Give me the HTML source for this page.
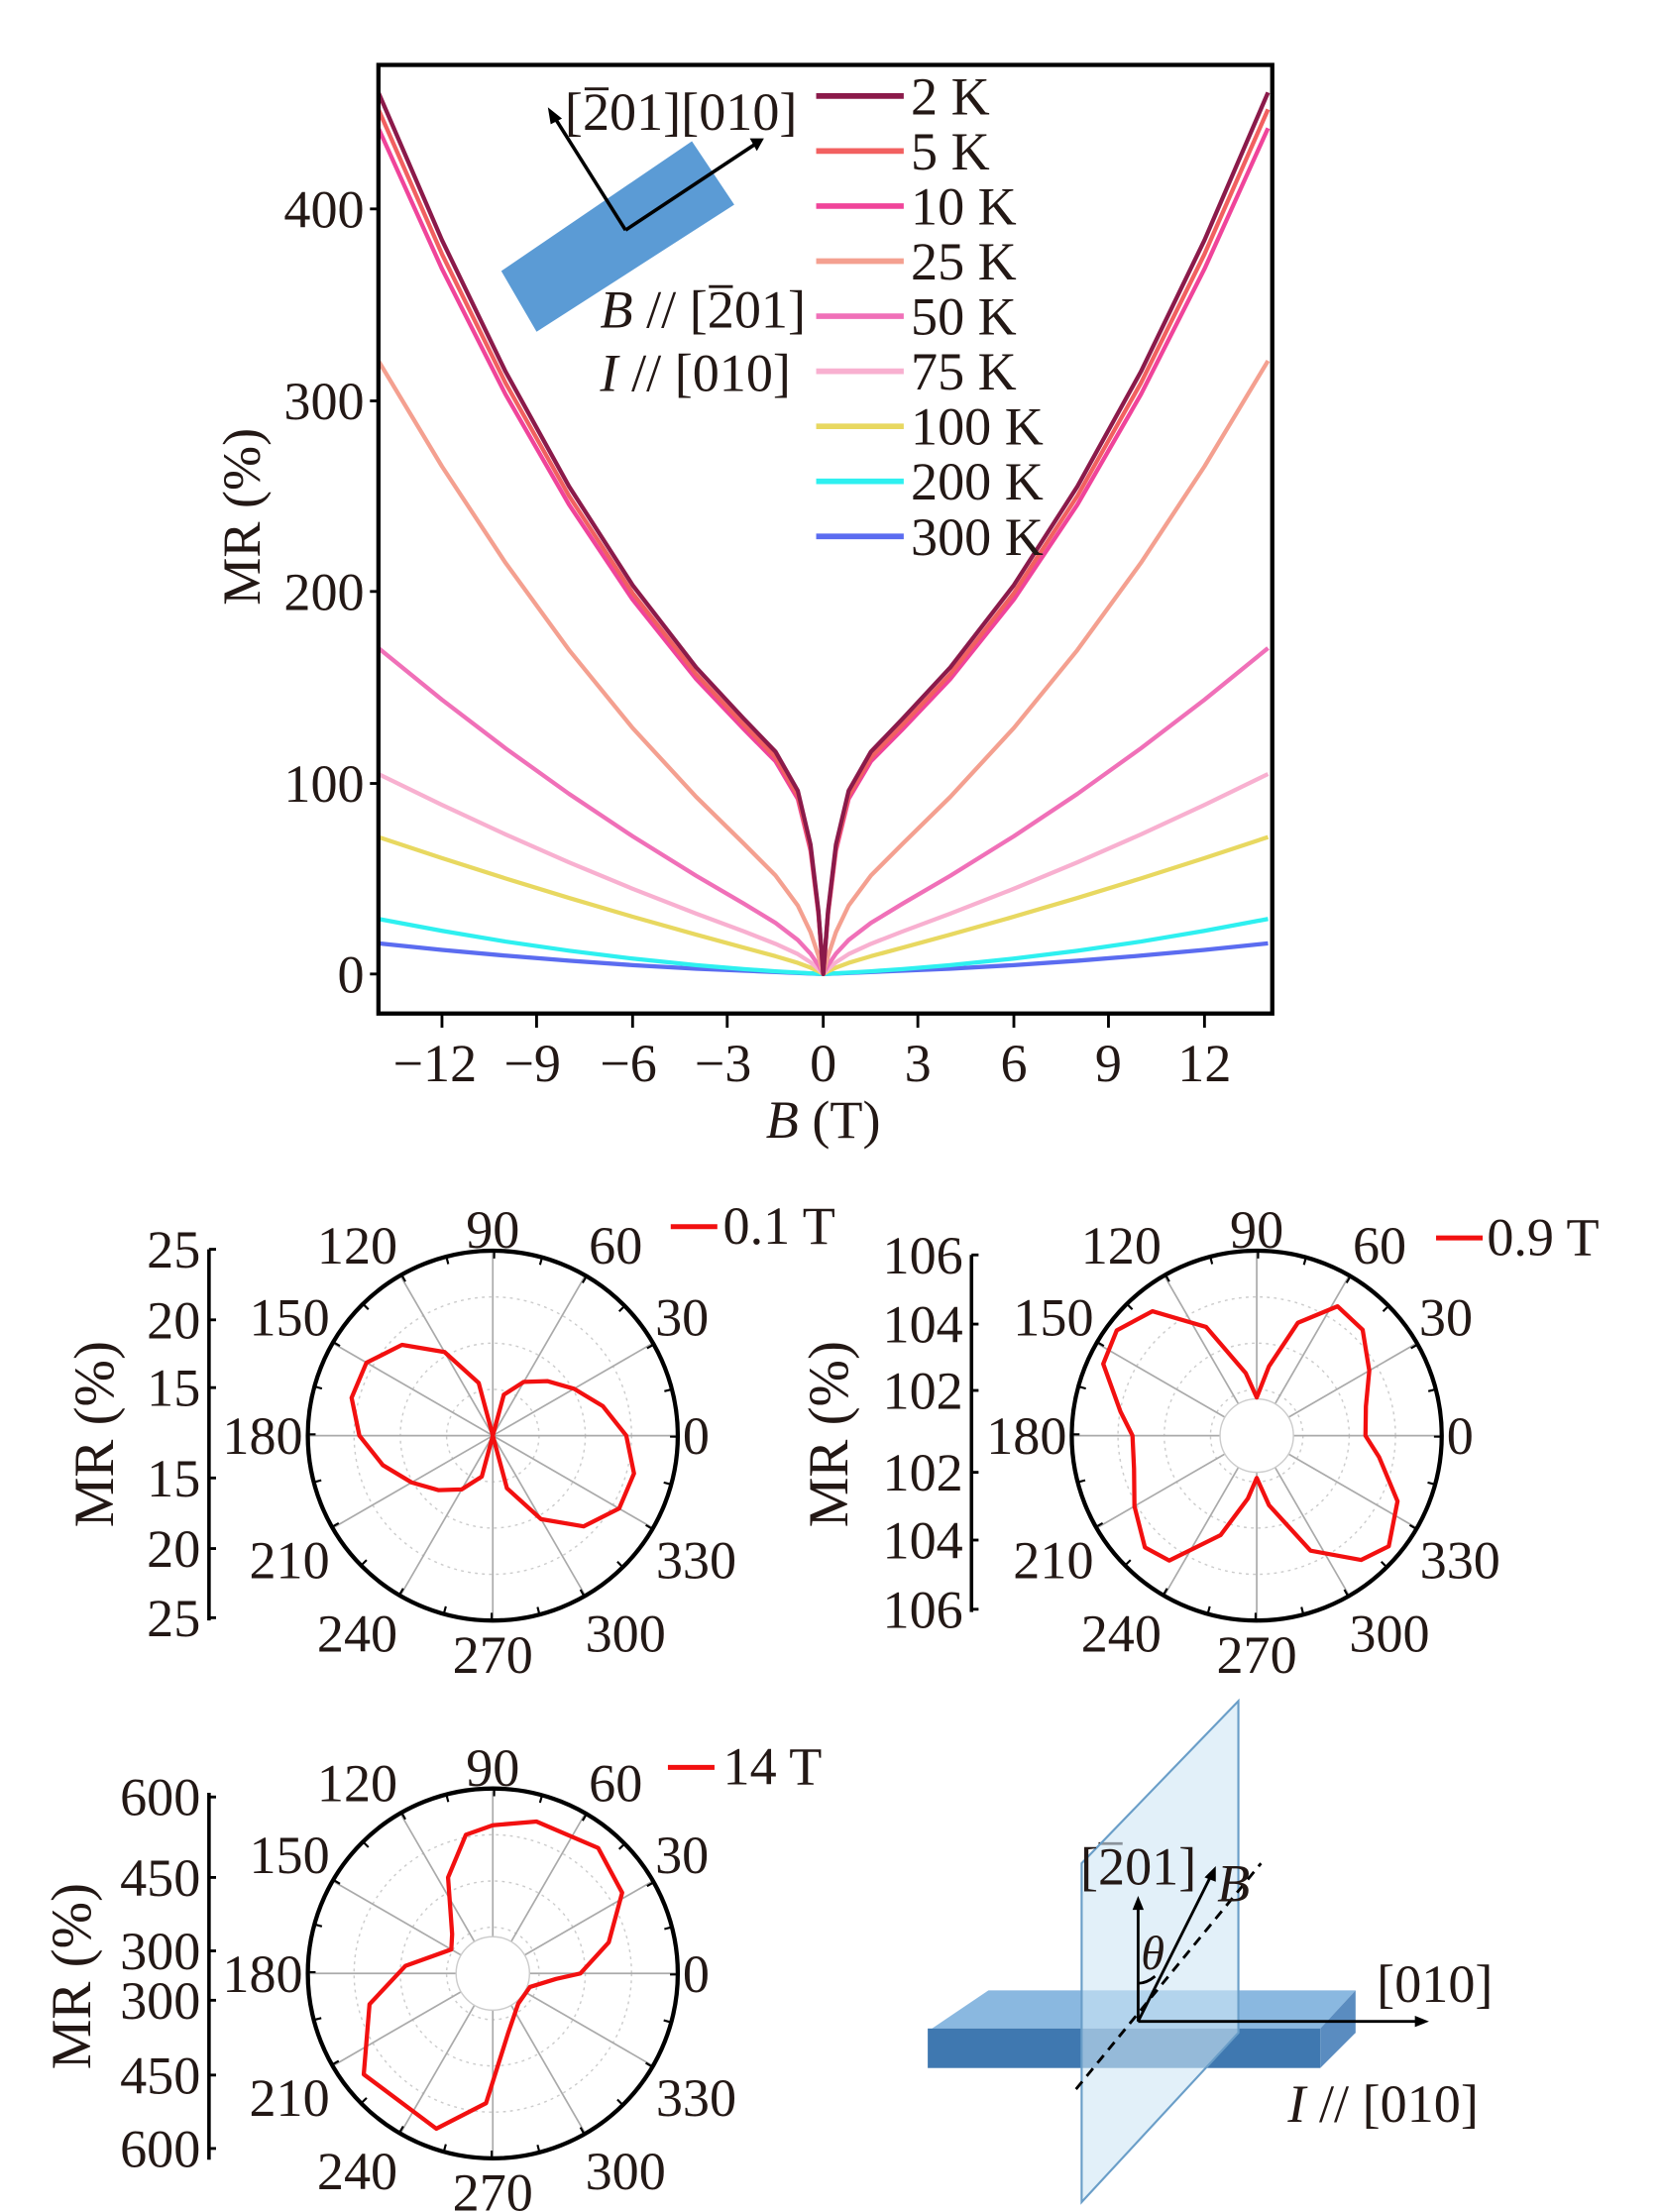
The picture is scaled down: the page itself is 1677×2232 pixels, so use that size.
<!DOCTYPE html>
<html><head><meta charset="utf-8"><style>
html,body{margin:0;padding:0;background:#fff}
svg{display:block}
text{font-family:"Liberation Serif",serif;fill:#231815}
</style></head><body>
<svg width="1677" height="2232" viewBox="0 0 1177 1567" preserveAspectRatio="none" xmlns="http://www.w3.org/2000/svg">
<rect width="1177" height="1567" fill="#fff"/>
<g fill="none" stroke-width="3" stroke-linejoin="round">
<path stroke="#5b6cf0" d="M268 668.3L313 672.9L358 677L403 680.6L448 683.7L493 686.3L583 690L673 686.3L718 683.7L763 680.6L808 677L853 672.9L898 668.3"/>
<path stroke="#2ef0f0" d="M268 651L313 659.4L358 667L403 673.5L448 679.1L493 683.7L526.7 686.5L549.2 688.1L583 690L616.8 688.1L639.3 686.5L673 683.7L718 679.1L763 673.5L808 667L853 659.4L898 651"/>
<path stroke="#e8d860" d="M268 593L313 607.9L358 622.3L403 636.1L448 649.4L493 662.1L526.7 671.3L549.2 677.4L565 682.1L574 685.5L579.6 688.1L583 690L586.4 688.1L592 685.5L601 682.1L616.8 677.4L639.3 671.3L673 662.1L718 649.4L763 636.1L808 622.3L853 607.9L898 593"/>
<path stroke="#f8b0d0" d="M268 548.3L313 570.2L358 591.1L403 610.9L448 629.6L493 647.2L526.7 659.8L549.2 668.6L565 675.9L574 681.7L579.6 686.5L583 690L586.4 686.5L592 681.7L601 675.9L616.8 668.6L639.3 659.8L673 647.2L718 629.6L763 610.9L808 591.1L853 570.2L898 548.3"/>
<path stroke="#f070b8" d="M268 459.1L313 495.7L358 530.1L403 562.4L448 592.4L493 620.4L526.7 640.1L549.2 653.8L565 665.9L574 675.6L579.6 683.8L583 690L586.4 683.8L592 675.6L601 665.9L616.8 653.8L639.3 640.1L673 620.4L718 592.4L763 562.4L808 530.1L853 495.7L898 459.1"/>
<path stroke="#f4a090" d="M268 255.6L313 330.4L358 398.7L403 460.5L448 515.7L493 564.5L526.7 597.6L549.2 620.2L565 641.5L574 660.3L579.6 677.1L583 690L586.4 677.1L592 660.3L601 641.5L616.8 620.2L639.3 597.6L673 564.5L718 515.7L763 460.5L808 398.7L853 330.4L898 255.6"/>
<path stroke="#f0449a" d="M268 90.8L313 190.5L358 279.4L403 357.5L448 424.7L493 481L526.7 516.5L549.2 539.3L565 566L574 602.6L579.6 647.6L583 690L586.4 647.6L592 602.6L601 566L616.8 539.3L639.3 516.5L673 481L718 424.7L763 357.5L808 279.4L853 190.5L898 90.8"/>
<path stroke="#f26060" d="M268 77.5L313 180L358 271.3L403 351.3L448 420.1L493 477.5L526.7 513.4L549.2 536.6L565 563.7L574 600.8L579.6 646.6L583 690L586.4 646.6L592 600.8L601 563.7L616.8 536.6L639.3 513.4L673 477.5L718 420.1L763 351.3L808 271.3L853 180L898 77.5"/>
<path stroke="#8b1a4a" d="M268 65.5L313 170.1L358 263.2L403 344.6L448 414.5L493 472.8L526.7 509.1L549.2 532.5L565 560.2L574 598.3L579.6 645.4L583 690L586.4 645.4L592 598.3L601 560.2L616.8 532.5L639.3 509.1L673 472.8L718 414.5L763 344.6L808 263.2L853 170.1L898 65.5"/>
</g>
<rect x="268" y="46" width="633" height="672" fill="none" stroke="#000" stroke-width="3"/>
<g font-size="38" text-anchor="end">
<text x="258" y="703">0</text><text x="258" y="568">100</text><text x="258" y="432">200</text><text x="258" y="297">300</text><text x="258" y="161">400</text>
</g>
<g stroke="#000" stroke-width="2">
<line x1="262" y1="690" x2="268" y2="690"/><line x1="262" y1="555" x2="268" y2="555"/><line x1="262" y1="419" x2="268" y2="419"/><line x1="262" y1="284" x2="268" y2="284"/><line x1="262" y1="148" x2="268" y2="148"/>
<line x1="313" y1="718" x2="313" y2="728"/><line x1="380" y1="718" x2="380" y2="728"/><line x1="448" y1="718" x2="448" y2="728"/><line x1="515" y1="718" x2="515" y2="728"/><line x1="583" y1="718" x2="583" y2="728"/><line x1="650" y1="718" x2="650" y2="728"/><line x1="718" y1="718" x2="718" y2="728"/><line x1="785" y1="718" x2="785" y2="728"/><line x1="853" y1="718" x2="853" y2="728"/>
</g>
<g font-size="38" text-anchor="middle">
<text x="308" y="766">−12</text><text x="377" y="766">−9</text><text x="445" y="766">−6</text><text x="512" y="766">−3</text><text x="583" y="766">0</text><text x="650" y="766">3</text><text x="718" y="766">6</text><text x="785" y="766">9</text><text x="853" y="766">12</text>
<text x="583" y="806"><tspan font-style="italic">B</tspan> (T)</text>
<text transform="translate(184,366) rotate(-90)">MR (%)</text>
</g>
<polygon points="355,192 490,100 520,145 380,235" fill="#5b9bd5"/>
<g stroke="#000" stroke-width="2.5" fill="none">
<line x1="443" y1="163" x2="392" y2="82"/><line x1="443" y1="163" x2="535" y2="102"/>
</g>
<polygon points="388,76 398,84 390,88" fill="#000"/>
<polygon points="541,98 531,98 536,107" fill="#000"/>
<g font-size="38">
<text x="400" y="92">[201][010]</text>
<text x="425" y="232"><tspan font-style="italic">B</tspan> // [201]</text>
<text x="425" y="277"><tspan font-style="italic">I</tspan> // [010]</text>
</g>
<g stroke="#231815" stroke-width="2">
<line x1="414" y1="63" x2="431" y2="63"/>
<line x1="502" y1="203" x2="519" y2="203"/>
<line x1="778" y1="1306" x2="795" y2="1306"/>
</g>
<g stroke-width="4">
<line x1="578" y1="68" x2="640" y2="68" stroke="#8b1a4a"/>
<line x1="578" y1="107" x2="640" y2="107" stroke="#f26060"/>
<line x1="578" y1="146" x2="640" y2="146" stroke="#f0449a"/>
<line x1="578" y1="185" x2="640" y2="185" stroke="#f4a090"/>
<line x1="578" y1="224" x2="640" y2="224" stroke="#f070b8"/>
<line x1="578" y1="263" x2="640" y2="263" stroke="#f8b0d0"/>
<line x1="578" y1="302" x2="640" y2="302" stroke="#e8d860"/>
<line x1="578" y1="341" x2="640" y2="341" stroke="#2ef0f0"/>
<line x1="578" y1="380" x2="640" y2="380" stroke="#5b6cf0"/>
</g>
<g font-size="38">
<text x="645" y="81">2 K</text><text x="645" y="120">5 K</text><text x="645" y="159">10 K</text><text x="645" y="198">25 K</text><text x="645" y="237">50 K</text><text x="645" y="276">75 K</text><text x="645" y="315">100 K</text><text x="645" y="354">200 K</text><text x="645" y="393">300 K</text>
</g>

<defs>
<g id="grid">
<circle r="32.75" fill="none" stroke="#ccc" stroke-dasharray="2,3"/>
<circle r="65.5" fill="none" stroke="#ccc" stroke-dasharray="2,3"/>
<circle r="98.25" fill="none" stroke="#ccc" stroke-dasharray="2,3"/>
<g stroke="#aaa" stroke-width="1.2">
<line x1="-131" y1="0" x2="131" y2="0"/><line x1="0" y1="-131" x2="0" y2="131"/>
<line x1="-113.4" y1="65.5" x2="113.4" y2="-65.5"/><line x1="-113.4" y1="-65.5" x2="113.4" y2="65.5"/>
<line x1="-65.5" y1="113.4" x2="65.5" y2="-113.4"/><line x1="-65.5" y1="-113.4" x2="65.5" y2="113.4"/>
</g>
</g>
<g id="frame">
<circle r="131" fill="none" stroke="#000" stroke-width="3"/>
<circle r="128" fill="none" stroke="#000" stroke-width="5" stroke-dasharray="1.5,32.01"/>
</g>
<g id="labs" font-size="38" text-anchor="middle">
<text x="144" y="13">0</text><text x="134" y="-71">30</text><text x="87" y="-122">60</text><text x="0" y="-133">90</text><text x="-96" y="-122">120</text><text x="-144" y="-71">150</text><text x="-163" y="13">180</text><text x="-144" y="101">210</text><text x="-96" y="153">240</text><text x="0" y="168">270</text><text x="94" y="153">300</text><text x="144" y="101">330</text>
</g>
</defs>

<g transform="translate(349,1017)"><use href="#grid"/><use href="#frame"/><use href="#labs"/></g>
<polygon fill="none" stroke="#f21010" stroke-width="3" stroke-linejoin="round" points="443.5,1017 426.9,996.1 406.5,983.8 387.6,978.4 371,978.9 356.8,988 349,1017 339,979.7 314.8,957.8 284.7,952.7 259.5,965.4 249,990.2 254.5,1017 271.1,1037.9 291.5,1050.2 310.4,1055.6 327,1055.1 341.2,1046 349,1017 359,1054.3 383.2,1076.2 413.3,1081.3 438.5,1068.6 449,1043.8"/>
<g transform="translate(890,1017)"><use href="#grid"/><circle r="26" fill="#fff" stroke="#ccc"/><use href="#frame"/><use href="#labs"/></g>
<polygon fill="none" stroke="#f21010" stroke-width="3" stroke-linejoin="round" points="967,1017 967.3,996.3 969.7,971 965,942 947.2,925.4 919.1,937.1 898.7,967.8 890,990 882.2,972.7 854.1,940 816.1,928.9 790.9,942.4 781.3,966.2 793.5,1000 802,1017 803.1,1040.3 803.4,1067 810.8,1096.2 828,1105.5 864.4,1087.5 883.7,1061.6 890,1047 898.7,1066.3 928.1,1098.5 963.9,1105.1 983.5,1095.4 989.7,1063.5 976.7,1032.3"/>
<g transform="translate(349,1398)"><use href="#grid"/><circle r="26" fill="#fff" stroke="#ccc"/><use href="#frame"/><use href="#labs"/></g>
<polygon fill="none" stroke="#f21010" stroke-width="3" stroke-linejoin="round" points="411,1398 431.1,1376 440.6,1340.8 423.6,1309.1 379.9,1290.4 349,1293 329.9,1299.8 317.3,1330 320.2,1370.2 319.6,1381 287.2,1392.6 261.7,1419.8 257.6,1469.5 309,1508 344.2,1489.9 360.1,1439.5 367,1419.4 375.3,1407.6 393.8,1401.9"/>

<g stroke="#000" stroke-width="2.5">
<line x1="148" y1="885" x2="148" y2="1148"/><line x1="688" y1="889" x2="688" y2="1142"/><line x1="148" y1="1270" x2="148" y2="1530"/>
</g>
<g stroke="#000" stroke-width="2">
<line x1="148" y1="885" x2="153" y2="885"/><line x1="148" y1="935" x2="153" y2="935"/><line x1="148" y1="983" x2="153" y2="983"/><line x1="148" y1="1047" x2="153" y2="1047"/><line x1="148" y1="1097" x2="153" y2="1097"/><line x1="148" y1="1146" x2="153" y2="1146"/>
<line x1="688" y1="889" x2="693" y2="889"/><line x1="688" y1="938" x2="693" y2="938"/><line x1="688" y1="985" x2="693" y2="985"/><line x1="688" y1="1043" x2="693" y2="1043"/><line x1="688" y1="1091" x2="693" y2="1091"/><line x1="688" y1="1140" x2="693" y2="1140"/>
<line x1="148" y1="1273" x2="153" y2="1273"/><line x1="148" y1="1330" x2="153" y2="1330"/><line x1="148" y1="1382" x2="153" y2="1382"/><line x1="148" y1="1417" x2="153" y2="1417"/><line x1="148" y1="1470" x2="153" y2="1470"/><line x1="148" y1="1522" x2="153" y2="1522"/>
</g>
<g font-size="38" text-anchor="end">
<text x="142" y="898">25</text><text x="142" y="948">20</text><text x="142" y="996">15</text><text x="142" y="1060">15</text><text x="142" y="1110">20</text><text x="142" y="1159">25</text>
<text x="682" y="902">106</text><text x="682" y="951">104</text><text x="682" y="998">102</text><text x="682" y="1056">102</text><text x="682" y="1104">104</text><text x="682" y="1153">106</text>
<text x="142" y="1286">600</text><text x="142" y="1343">450</text><text x="142" y="1395">300</text><text x="142" y="1430">300</text><text x="142" y="1483">450</text><text x="142" y="1535">600</text>
</g>
<g font-size="40" text-anchor="middle">
<text transform="translate(80,1016) rotate(-90)">MR (%)</text>
<text transform="translate(600,1016) rotate(-90)">MR (%)</text>
<text transform="translate(64,1400) rotate(-90)">MR (%)</text>
</g>
<g stroke="#f21010" stroke-width="3.5">
<line x1="475" y1="869" x2="508" y2="869"/><line x1="1017" y1="877" x2="1050" y2="877"/><line x1="473" y1="1252" x2="506" y2="1252"/>
</g>
<g font-size="38">
<text x="512" y="881">0.1 T</text><text x="1053" y="889">0.9 T</text><text x="512" y="1264">14 T</text>
</g>

<polygon points="700,1410 960,1410 935,1437 660,1437" fill="#8ab8e0"/>
<rect x="657" y="1437" width="278" height="28" fill="#3f78b0"/>
<polygon points="935,1437 960,1410 960,1440 935,1465" fill="#5a8cc0"/>
<polygon points="766,1320 877,1205 877,1440 766,1560" fill="#cfe6f5" fill-opacity="0.6" stroke="#6a9ec8" stroke-width="1.5"/>
<g stroke="#000" stroke-width="2" fill="none">
<line x1="806" y1="1432" x2="806" y2="1350"/>
<line x1="806" y1="1432" x2="1005" y2="1432"/>
<line x1="806" y1="1432" x2="858" y2="1328"/>
<line x1="762" y1="1480" x2="893" y2="1320" stroke-dasharray="7,5"/>
<path d="M806 1405 Q812 1405 818 1400"/>
</g>
<polygon points="806,1343 802,1353 810,1353" fill="#000"/>
<polygon points="1012,1432 1002,1428 1002,1436" fill="#000"/>
<polygon points="861,1322 853,1330 861,1333" fill="#000"/>
<g font-size="38">
<text x="765" y="1335">[201]</text>
<text x="862" y="1347" font-style="italic">B</text>
<text x="808" y="1395" font-style="italic" font-size="34">θ</text>
<text x="975" y="1418">[010]</text>
<text x="912" y="1503"><tspan font-style="italic">I</tspan> // [010]</text>
</g>
</svg>
</body></html>
